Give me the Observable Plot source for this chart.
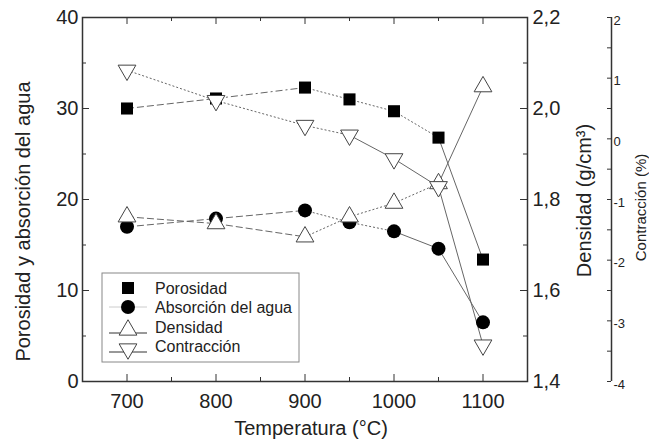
<!DOCTYPE html>
<html>
<head>
<meta charset="utf-8">
<script src="https://cdn.jsdelivr.net/npm/d3@7"></script>
<script src="https://cdn.jsdelivr.net/npm/@observablehq/plot@0.6"></script>
<style>
  html, body { margin: 0; padding: 0; background: white; }
</style>
</head>
<body>
<div id="chart"></div>
<script>
// ---- data ----
const temps = [700, 800, 900, 950, 1000, 1050, 1100];
const porosidad = [30.0, 31.1, 32.3, 31.0, 29.7, 26.8, 13.4];
const absorcion = [17.0, 17.9, 18.8, 17.5, 16.5, 14.6, 6.5];
const densidad = [1.762, 1.747, 1.718, 1.762, 1.792, 1.835, 2.048];
const contraccion = [1.13, 0.63, 0.22, 0.06, -0.33, -0.79, -3.40];
const seriesNames = ["Porosidad", "Absorción del agua", "Densidad", "Contracción"];
const leftTicks = [0, 10, 20, 30, 40];
const leftMinor = [5, 15, 25, 35];
const densTicks = [1.4, 1.6, 1.8, 2.0, 2.2];
const contTicks = [-4, -3, -2, -1, 0, 1, 2];
const contMinor = [-3.5, -2.5, -1.5, -0.5, 0.5, 1.5];
const xTicks = [700, 800, 900, 1000, 1100];
const xMinor = [750, 850, 950, 1050];

// ---- scale mappings of the secondary axes onto the left axis ----
const densLo = 1.4, densHi = 2.2, contLo = -4, contHi = 2, leftHi = 40;
const d2y = v => (v - densLo) / (densHi - densLo) * leftHi;
const c2y = v => (v - contLo) / (contHi - contLo) * leftHi;

// ---- line styles per segment ----
const LONG = "7,3", DASHDOT = "7,3,2,3", DOT = "2,2", SOLID = "none";
const segStyles = {
  "Porosidad": [LONG, DASHDOT, DOT, DOT, DOT, SOLID],
  "Absorción del agua": [LONG, LONG, DOT, DOT, SOLID, SOLID],
  "Densidad": [LONG, LONG, DOT, DOT, DOT, SOLID],
  "Contracción": [DOT, DOT, DOT, SOLID, SOLID, SOLID]
};

const seriesY = {
  "Porosidad": porosidad,
  "Absorción del agua": absorcion,
  "Densidad": densidad.map(d2y),
  "Contracción": contraccion.map(c2y)
};

const segs = [];
for (const name of seriesNames) {
  const ys = seriesY[name];
  for (let i = 0; i < temps.length - 1; i++) {
    segs.push({name, x1: temps[i], y1: ys[i], x2: temps[i + 1], y2: ys[i + 1], dash: segStyles[name][i]});
  }
}
const pts = name => temps.map((t, i) => ({x: t, y: seriesY[name][i]}));

const triDown = {
  draw(context, size) {
    const y = Math.sqrt(size / (Math.sqrt(3) * 3));
    context.moveTo(0, 2 * y);
    context.lineTo(Math.sqrt(3) * y, -y);
    context.lineTo(-Math.sqrt(3) * y, -y);
    context.closePath();
  }
};

const W = 649, H = 444, mL = 82, mR = 122, mT = 17, mB = 63;
const pw = W - mL - mR, ph = H - mT - mB;
const axisColor = "#333";
const lineColor = "#666";
const fmtDens = v => (densLo + v / leftHi * (densHi - densLo)).toFixed(1).replace(".", ",");

const linkMarks = [LONG, DASHDOT, DOT, SOLID].map(dash =>
  Plot.link(segs.filter(s => s.dash === dash), {
    x1: "x1", y1: "y1", x2: "x2", y2: "y2",
    stroke: lineColor, strokeWidth: 1,
    strokeDasharray: dash === SOLID ? null : dash
  })
);

const plot = Plot.plot({
  width: W, height: H,
  marginLeft: mL, marginRight: mR, marginTop: mT, marginBottom: mB,
  style: {fontFamily: "'Liberation Sans', Arial, sans-serif", color: "#222", background: "white", overflow: "visible"},
  x: {domain: [650, 1150]},
  y: {domain: [0, leftHi]},
  marks: [
    // axes labels (ticks text)
    Plot.axisX({ticks: xTicks, tickFormat: d => String(d), tickSize: 0, tickPadding: 12, fontSize: 20, label: null}),
    Plot.axisY({anchor: "left", ticks: leftTicks, tickFormat: d => String(d), tickSize: 0, tickPadding: 4, fontSize: 20, label: null}),
    Plot.axisY({anchor: "right", ticks: densTicks.map(d2y), tickFormat: fmtDens, tickSize: 0, tickPadding: 5, fontSize: 20, label: null}),
    // inward tick marks
    Plot.tickY(leftTicks, {y: d => d, insetRight: pw - 7, stroke: axisColor}),
    Plot.tickY(leftMinor, {y: d => d, insetRight: pw - 4, stroke: axisColor}),
    Plot.tickY(densTicks.map(d2y), {y: d => d, insetLeft: pw - 7, stroke: axisColor}),
    Plot.tickY(leftMinor, {y: d => d, insetLeft: pw - 4, stroke: axisColor}),
    Plot.tickX(xTicks, {x: d => d, insetTop: ph - 7, stroke: axisColor}),
    Plot.tickX(xMinor, {x: d => d, insetTop: ph - 4, stroke: axisColor}),
    Plot.tickX(xTicks, {x: d => d, insetBottom: ph - 7, stroke: axisColor}),
    Plot.tickX(xMinor, {x: d => d, insetBottom: ph - 4, stroke: axisColor}),
    // contraction axis (outside the frame, at the right)
    Plot.tickX([1150], {x: d => d, dx: 84, stroke: axisColor, strokeWidth: 1.5}),
    Plot.tickY(contTicks.concat(contMinor).map(c2y), {y: d => d, insetLeft: pw + 80, insetRight: -84, stroke: axisColor}),
    Plot.text(contTicks, {y: d => c2y(d), text: d => String(d), frameAnchor: "right", dx: 86, dy: 3, textAnchor: "start", fontSize: 13}),
    // axis titles
    Plot.text(["Temperatura (°C)"], {text: d => d, frameAnchor: "bottom", textAnchor: "middle", dx: 6, dy: 53, fontSize: 20}),
    Plot.text(["Porosidad y absorción del agua"], {text: d => d, frameAnchor: "left", textAnchor: "middle", rotate: -90, dx: -59, dy: 22, fontSize: 20}),
    Plot.text(["Densidad (g/cm³)"], {text: d => d, frameAnchor: "right", textAnchor: "middle", rotate: -90, dx: 57, dy: 1, fontSize: 20}),
    Plot.text(["Contracción (%)"], {text: d => d, frameAnchor: "right", textAnchor: "middle", rotate: -90, dx: 114, dy: 8, fontSize: 15}),
    // frame
    Plot.frame({stroke: axisColor, strokeWidth: 1.5}),
    // data lines
    ...linkMarks,
    // data markers
    Plot.dot(pts("Porosidad"), {x: "x", y: "y", symbol: "square", r: 6.8, fill: "#000"}),
    Plot.dot(pts("Absorción del agua"), {x: "x", y: "y", symbol: "circle", r: 7, fill: "#000"}),
    Plot.dot(pts("Densidad"), {x: "x", y: "y", symbol: "triangle", r: 6.6, fill: "white", stroke: "#444", strokeWidth: 1}),
    Plot.dot(pts("Contracción"), {x: "x", y: "y", symbol: triDown, r: 6.6, fill: "white", stroke: "#444", strokeWidth: 1})
  ]
});

// ---- legend (inside the plot area, lower left) ----
const svg = d3.select(plot);
const lg = svg.append("g").attr("font-family", "'Liberation Sans', Arial, sans-serif")
  .attr("font-size", 16).attr("fill", "#222").attr("text-anchor", "start");
lg.append("rect").attr("x", 102).attr("y", 273).attr("width", 197).attr("height", 89)
  .attr("fill", "none").attr("stroke", "#888").attr("stroke-width", 1);
const rowY = [288, 307, 327, 346];
const symArea = r => Math.PI * r * r;
const legendSyms = [
  {sym: d3.symbolSquare, r: 6.8, fill: "#000", stroke: "none", line: null},
  {sym: d3.symbolCircle, r: 7, fill: "#000", stroke: "none", line: "#ccc"},
  {sym: d3.symbolTriangle, r: 6.6, fill: "white", stroke: "#444", line: "#333"},
  {sym: triDown, r: 6.6, fill: "white", stroke: "#444", line: "#333"}
];
seriesNames.forEach((name, i) => {
  const s = legendSyms[i];
  const cy = rowY[i] + (i >= 2 ? 3 : 0);
  if (s.line) {
    const ly = i >= 2 ? rowY[i] + 6 : rowY[i];
    lg.append("line").attr("x1", 109).attr("x2", 147).attr("y1", ly).attr("y2", ly)
      .attr("stroke", s.line).attr("stroke-width", 1);
  }
  lg.append("path").attr("d", d3.symbol(s.sym, symArea(s.r))())
    .attr("transform", `translate(128,${cy})`)
    .attr("fill", s.fill).attr("stroke", s.stroke);
  lg.append("text").attr("x", 155).attr("y", rowY[i]).attr("dy", "0.35em")
    .attr("text-anchor", "start").text(name);
});

document.getElementById("chart").appendChild(plot);
</script>
</body>
</html>
